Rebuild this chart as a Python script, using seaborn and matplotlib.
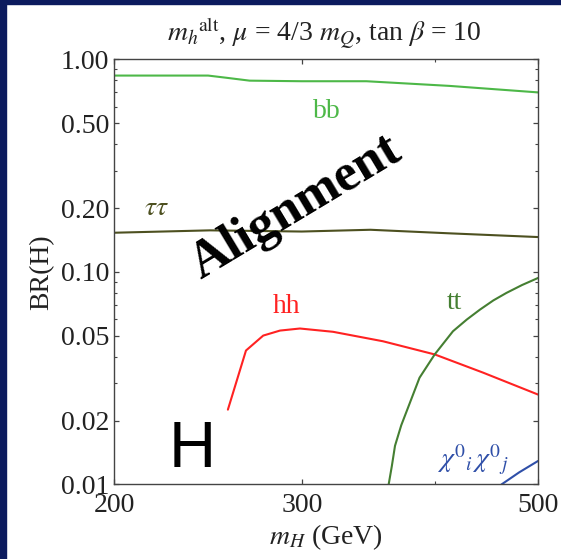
"""BR(H) vs m_H in the alignment limit (tan beta = 10)."""
import matplotlib
matplotlib.use('Agg')
import matplotlib.pyplot as plt
from matplotlib.patches import Rectangle
import pandas as pd
import seaborn as sns

# --- data ---
bb_m = [200, 245, 255, 268, 300, 345, 413, 500]
bb_br = [0.84, 0.84, 0.82, 0.795, 0.79, 0.79, 0.751, 0.70]

tautau_m = [200, 246, 300, 348, 413, 500]
tautau_br = [0.153, 0.157, 0.155, 0.158, 0.152, 0.146]

hh_m = [255.7, 265.9, 276, 286.2, 298.8, 321, 357.6, 400.1, 444, 500]
hh_br = [0.0225, 0.0427, 0.0502, 0.0530, 0.0542, 0.0523, 0.0472, 0.0409, 0.0336, 0.0265]

tt_m = [362, 364.5, 367, 372, 378, 387, 400, 416, 428.6, 441, 454, 467, 483, 500]
tt_br = [0.010, 0.0122, 0.0152, 0.019, 0.0234, 0.0318, 0.041, 0.0526, 0.0597,
         0.0665, 0.0735, 0.0797, 0.0868, 0.0937]

chi_m = [462, 480, 500]
chi_br = [0.010, 0.0114, 0.0129]

y_ticks = [0.01, 0.02, 0.05, 0.1, 0.2, 0.5, 1.0]
y_minor = [0.03, 0.04, 0.06, 0.07, 0.08, 0.09, 0.3, 0.4, 0.6, 0.7, 0.8, 0.9]
x_ticks = [200, 300, 500]
x_minor = [400]

colors = {'bb': '#4db848', 'tautau': '#4d5020', 'hh': '#ff2222',
          'tt': '#457f32', 'chi': '#2f4fa8'}

frames = []
for name, m, br in [('bb', bb_m, bb_br), ('tautau', tautau_m, tautau_br),
                    ('hh', hh_m, hh_br), ('tt', tt_m, tt_br), ('chi', chi_m, chi_br)]:
    frames.append(pd.DataFrame({'mH': m, 'BR': br, 'channel': name}))
df = pd.concat(frames, ignore_index=True)

sns.set_theme(style='ticks')
plt.rcParams['font.family'] = ['Liberation Serif', 'DejaVu Serif']
plt.rcParams['mathtext.fontset'] = 'stix'
plt.rcParams['lines.solid_joinstyle'] = 'round'

fig = plt.figure(figsize=(5.61, 5.59), dpi=100)
ax = fig.add_axes([0.2037, 0.1333, 0.7553, 0.7603])

sns.lineplot(data=df, x='mH', y='BR', hue='channel', palette=colors,
             linewidth=1.5, legend=False, ax=ax, sort=False)

ax.set_xscale('log')
ax.set_yscale('log')
ax.set_xlim(200, 500)
ax.set_ylim(0.01, 1.0)
ax.set_xticks(x_ticks)
ax.set_xticklabels([str(t) for t in x_ticks])
ax.set_xticks(x_minor, minor=True)
ax.set_xticklabels([''] * len(x_minor), minor=True)
ax.set_yticks(y_ticks)
ax.set_yticklabels([f'{t:.2f}' for t in y_ticks])
ax.set_yticks(y_minor, minor=True)
ax.set_yticklabels([''] * len(y_minor), minor=True)

ax.tick_params(which='both', direction='in', top=True, right=True,
               colors='#444444', labelcolor='#222222', labelsize=20)
ax.tick_params(which='major', length=3.5, width=0.9)
ax.tick_params(which='minor', length=2, width=0.8)
ax.tick_params(axis='y', pad=3.5)
ax.tick_params(axis='x', pad=6)
for sp in ax.spines.values():
    sp.set_color('#444444')
    sp.set_linewidth(1.0)

ax.set_xlabel(r'$m_H$ (GeV)', fontsize=20, color='#222222')
ax.set_ylabel('BR(H)', fontsize=20, color='#222222')
ax.xaxis.set_label_coords(0.5, -0.123)
ax.xaxis.label.set_va('center')
ax.yaxis.set_label_coords(-0.171, 0.5)
ax.yaxis.label.set_va('center')

fig.text(324 / 561, 1 - 33 / 559,
         r'$m_h{}^{\mathrm{alt}}$, $\mu$ = 4/3 $m_Q$, tan $\beta$ = 10',
         ha='center', va='center', fontsize=20, color='#222222')

# curve labels
ax.text(317, 0.57, 'bb', color=colors['bb'], fontsize=20, ha='center', va='center')
ax.text(219, 0.20, r'$\tau\tau$', color=colors['tautau'], fontsize=20, ha='center', va='center')
ax.text(290, 0.069, 'hh', color=colors['hh'], fontsize=20, ha='center', va='center')
ax.text(417, 0.072, 'tt', color=colors['tt'], fontsize=20, ha='center', va='center')
ax.text(434, 0.0131, r'$\chi^0{}_i\,\chi^0{}_j$', color=colors['chi'], fontsize=20,
        ha='center', va='center')

ax.text(0.428, 0.652, 'Alignment', transform=ax.transAxes, rotation=31,
        fontsize=38, fontweight='bold', ha='center', va='center', color='black')
ax.text(0.184, 0.082, 'H', transform=ax.transAxes, fontsize=47,
        family='Liberation Sans', ha='center', va='center', color='black')

# dark navy frame on the left and top edges
fig.patches.append(Rectangle((0, 0), 6 / 561, 1, transform=fig.transFigure,
                             color='#0c1b5e', zorder=0))
fig.patches.append(Rectangle((0, 1 - 4 / 559), 1, 4 / 559, transform=fig.transFigure,
                             color='#0c1b5e', zorder=0))

fig.savefig('out.png', dpi=100)
